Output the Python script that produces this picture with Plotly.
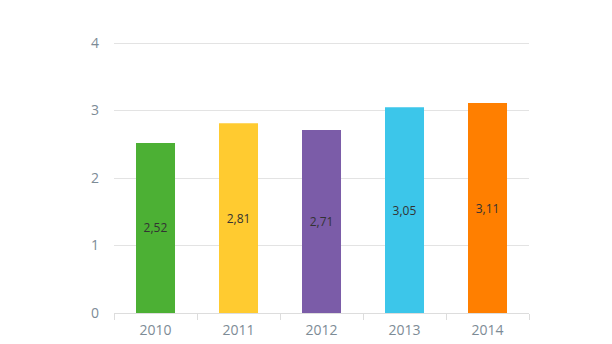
import plotly.graph_objects as go

years = ["2010", "2011", "2012", "2013", "2014"]
values = [2.52, 2.81, 2.71, 3.05, 3.11]
colors = ["#4cb034", "#ffcb30", "#7b5ca8", "#3cc6ea", "#ff7f00"]
y_ticks = [0, 1, 2, 3, 4]

fig = go.Figure(
    go.Bar(
        x=years,
        y=values,
        marker=dict(color=colors, line=dict(width=0)),
        width=0.47,
        text=[f"{v:.2f}".replace(".", ",") for v in values],
        textposition="inside",
        insidetextanchor="middle",
        textangle=0,
        textfont=dict(family="Open Sans", size=12, color="#333333"),
        hoverinfo="skip",
    )
)

fig.update_layout(
    width=612,
    height=344,
    margin=dict(l=114, r=83, t=41, b=31, autoexpand=False),
    paper_bgcolor="white",
    plot_bgcolor="white",
    showlegend=False,
    separators=",.",
    xaxis=dict(
        type="category",
        automargin=False,
        showgrid=False,
        showline=True,
        linecolor="#dddddd",
        linewidth=1,
        ticks="outside",
        tickson="boundaries",
        ticklen=6,
        tickcolor="#dddddd",
        ticklabelstandoff=4,
        tickfont=dict(family="Open Sans", size=14, color="#7d8b96"),
    ),
    yaxis=dict(
        range=[0, 4.03],
        automargin=False,
        tickvals=y_ticks,
        showgrid=True,
        gridcolor="#e3e3e3",
        gridwidth=1,
        zeroline=False,
        showline=False,
        ticks="",
        ticklabelstandoff=14,
        tickfont=dict(family="Open Sans", size=14, color="#7d8b96"),
    ),
)

fig.write_html("out.html")
